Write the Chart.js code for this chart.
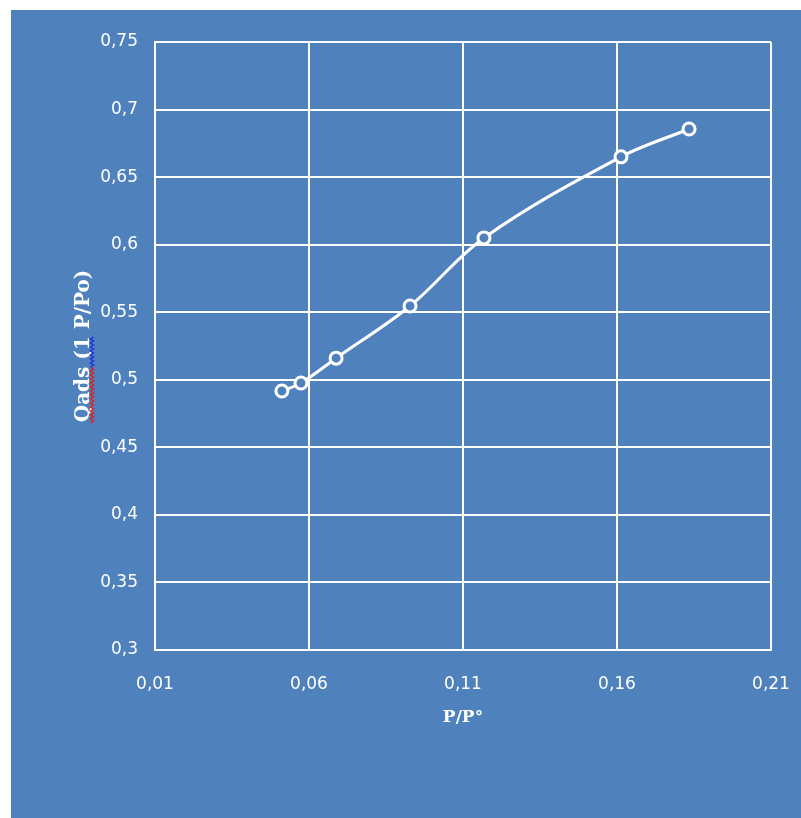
<!DOCTYPE html>
<html>
<head>
<meta charset="utf-8">
<script src="https://cdn.jsdelivr.net/npm/chart.js@4"></script>
<style>
  html, body { margin: 0; padding: 0; background: #fff; }
  #wrap { width: 801px; height: 818px; }
</style>
</head>
<body>
<div id="wrap"><canvas id="c" width="801" height="818"></canvas></div>
<script>
// données
const pRatio = [0.0512, 0.0574, 0.0688, 0.0928, 0.1168, 0.1613, 0.1834];
const qads = [0.4917, 0.4976, 0.5160, 0.5546, 0.6050, 0.6650, 0.6856];
const xTicks = [0.01, 0.06, 0.11, 0.16, 0.21];
const yTicks = [0.3, 0.35, 0.4, 0.45, 0.5, 0.55, 0.6, 0.65, 0.7, 0.75];

const BLUE = '#4f81bd';
const fmt = v => String(+v.toFixed(2)).replace('.', ',');

// fond bleu + soulignement ondulé du titre Y
const bgPlugin = {
    id: 'bg',
    beforeDraw(chart) {
        const ctx = chart.ctx;
        ctx.save();
        ctx.fillStyle = BLUE;
        ctx.fillRect(11, 10, 790, 808);
        ctx.restore();
    },
    afterDraw(chart) {
        const ctx = chart.ctx;
        function wave(y1, y2, color) {
            ctx.beginPath();
            ctx.strokeStyle = color;
            ctx.lineWidth = 1.5;
            let i = 0;
            for (let y = y1; y >= y2; y -= 2) {
                const x = 92 + (i % 2 ? 1.5 : -1.5);
                if (i === 0) ctx.moveTo(x, y); else ctx.lineTo(x, y);
                i++;
            }
            ctx.stroke();
        }
        ctx.save();
        wave(423, 367, '#e02020');
        wave(367, 337, '#2030e0');
        ctx.restore();
    }
};

new Chart(document.getElementById('c'), {
    type: 'scatter',
    data: {
        datasets: [{
            data: pRatio.map((x, i) => ({ x: x, y: qads[i] })),
            showLine: true,
            borderColor: '#ffffff',
            borderWidth: 3,
            tension: 0.35,
            pointRadius: 6,
            pointBorderWidth: 3,
            pointBackgroundColor: BLUE,
            pointBorderColor: '#ffffff'
        }]
    },
    options: {
        responsive: false,
        animation: false,
        layout: { padding: { left: 11, top: 42, right: 30, bottom: 78 } },
        plugins: { legend: { display: false }, tooltip: { enabled: false } },
        scales: {
            x: {
                type: 'linear',
                min: 0.01,
                max: 0.21,
                afterBuildTicks: s => { s.ticks = xTicks.map(v => ({ value: v })); },
                afterFit: s => { s.height = 90; s.paddingLeft = 0; s.paddingRight = 0; },
                ticks: {
                    color: '#ffffff',
                    padding: 24,
                    font: { family: 'DejaVu Sans', size: 17 },
                    callback: v => fmt(v)
                },
                grid: { color: '#ffffff', lineWidth: 2, drawTicks: false },
                border: { color: '#ffffff', width: 2 },
                title: {
                    display: true,
                    text: 'P/P°',
                    color: '#ffffff',
                    padding: { top: 0, bottom: 12 },
                    font: { family: 'DejaVu Serif', size: 17, weight: 'bold' }
                }
            },
            y: {
                min: 0.3,
                max: 0.75,
                afterBuildTicks: s => { s.ticks = yTicks.map(v => ({ value: v })); },
                afterFit: s => { s.width = 144; s.paddingTop = 0; s.paddingBottom = 0; },
                ticks: {
                    color: '#ffffff',
                    padding: 17,
                    font: { family: 'DejaVu Sans', size: 17 },
                    callback: v => fmt(v)
                },
                grid: { color: '#ffffff', lineWidth: 2, drawTicks: false },
                border: { color: '#ffffff', width: 2 },
                title: {
                    display: true,
                    text: 'Qads (1 P/Po)',
                    color: '#ffffff',
                    padding: { top: 61, bottom: 0 },
                    font: { family: 'DejaVu Serif', size: 20, weight: 'bold' }
                }
            }
        }
    },
    plugins: [bgPlugin]
});
</script>
</body>
</html>
